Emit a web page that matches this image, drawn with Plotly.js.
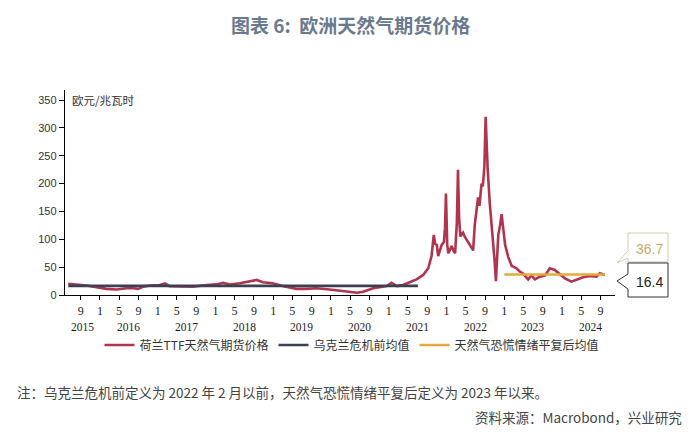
<!DOCTYPE html>
<html><head><meta charset="utf-8">
<script src="https://cdn.plot.ly/plotly-3.0.1.min.js"></script>
<style>body{margin:0;background:#fff}#c{width:700px;height:438px}</style>
</head><body><div id="c"></div>
<script>
// ---- data ----
const priceDates = ['2015-06-15','2015-07-25','2015-09-01','2015-10-08','2015-12-10','2016-01-05','2016-02-12','2016-04-15','2016-06-17','2016-08-01','2016-08-30','2016-10-01','2016-11-12','2017-01-14','2017-02-15','2017-03-16','2017-05-19','2017-08-12','2017-11-06','2018-01-08','2018-02-18','2018-04-01','2018-06-03','2018-08-05','2018-09-18','2018-10-27','2018-12-28','2019-03-01','2019-05-27','2019-07-28','2019-10-01','2019-12-24','2020-02-15','2020-04-15','2020-05-20','2020-06-15','2020-07-22','2020-09-24','2020-12-18','2021-01-18','2021-02-20','2021-04-01','2021-05-13','2021-06-25','2021-08-06','2021-09-07','2021-09-28','2021-10-06','2021-10-12','2021-10-20','2021-10-31','2021-11-09','2021-11-20','2021-12-01','2021-12-15','2021-12-22','2021-12-28','2022-01-05','2022-01-12','2022-01-24','2022-02-02','2022-02-12','2022-02-24','2022-03-07','2022-03-14','2022-03-21','2022-03-29','2022-04-08','2022-04-15','2022-04-25','2022-05-06','2022-05-16','2022-05-27','2022-06-10','2022-06-18','2022-06-28','2022-07-08','2022-07-19','2022-07-28','2022-08-10','2022-08-18','2022-08-28','2022-09-05','2022-09-12','2022-09-18','2022-10-01','2022-10-12','2022-10-22','2022-11-01','2022-11-09','2022-11-16','2022-11-24','2022-12-05','2022-12-15','2022-12-25','2023-01-06','2023-01-26','2023-02-17','2023-03-05','2023-03-19','2023-04-09','2023-05-01','2023-06-01','2023-06-22','2023-07-13','2023-08-13','2023-09-15','2023-10-16','2023-11-16','2023-12-18','2024-01-19','2024-03-01','2024-04-12','2024-05-13','2024-06-25','2024-08-06','2024-08-27','2024-09-27'];
const priceValues = [20,19,19,17,14,13,11,10,12,12,11,15,17,18,21,16,16,15,18,19,22,19,21,24,27,23,21,16,11,11,12,10,8,5,4.5,4,6,12,16,22,16,18,23,28,36,48,70,95,108,92,90,70,82,90,95,120,182,90,75,82,88,80,75,130,225,140,105,110,112,105,100,95,90,85,80,125,150,175,160,200,195,230,320,260,225,165,130,95,60,25,70,108,125,145,120,90,68,52,50,48,42,38,28,35,28,33,35,48,45,38,30,24,28,32,34,33,39,36];
const preMeanDates = ['2015-06-15','2021-07-04'];
const preMeanValues = [16.4,16.4];
const postMeanDates = ['2023-01-01','2024-09-27'];
const postMeanValues = [36.7,36.7];
const tickDates = ['2015-09-01','2016-01-01','2016-05-01','2016-09-01','2017-01-01','2017-05-01','2017-09-01','2018-01-01','2018-05-01','2018-09-01','2019-01-01','2019-05-01','2019-09-01','2020-01-01','2020-05-01','2020-09-01','2021-01-01','2021-05-01','2021-09-01','2022-01-01','2022-05-01','2022-09-01','2023-01-01','2023-05-01','2023-09-01','2024-01-01','2024-05-01','2024-09-01'];
const tickLabels = ['9','1','5','9','1','5','9','1','5','9','1','5','9','1','5','9','1','5','9','1','5','9','1','5','9','1','5','9'];
const yearLabels = ['2015','2016','2017','2018','2019','2020','2021','2022','2023','2024'];
const yearPos = ['2015-09-15','2016-07-01','2017-07-01','2018-07-01','2019-07-01','2020-07-01','2021-07-01','2022-07-01','2023-07-01','2024-07-01'];
const seriesNames = ['荷兰TTF天然气期货价格','乌克兰危机前均值','天然气恐慌情绪平复后均值'];
const calloutValues = ['36.7','16.4'];

// ---- layout helpers (pixel -> paper) ----
const L=65, R=615, T=90, B=295;
const px = x => (x-L)/(R-L);
const py = y => (B-y)/(B-T);
const path = pts => pts.map((p,i)=>(i?'L':'M')+px(p[0]).toFixed(4)+','+py(p[1]).toFixed(4)).join(' ')+' Z';

const cjk = '"Noto Sans CJK SC", sans-serif';
const traces = [
  {x:priceDates, y:priceValues, name:seriesNames[0], mode:'lines', line:{color:'#b0344e', width:2.6}},
  {x:preMeanDates, y:preMeanValues, name:seriesNames[1], mode:'lines', line:{color:'#3a4152', width:2.6}},
  {x:postMeanDates, y:postMeanValues, name:seriesNames[2], mode:'lines', line:{color:'#e8a93c', width:2.6}}
];

const ann = [
  {text:'<b>图表 6:  欧洲天然气期货价格</b>', xref:'paper', yref:'paper', x:px(350), y:py(25), xanchor:'center', yanchor:'middle', showarrow:false, font:{family:cjk, size:19, color:'#6a7a8e'}},
  {text:'欧元/兆瓦时', xref:'paper', yref:'paper', x:px(70), y:py(100), xanchor:'left', yanchor:'middle', showarrow:false, font:{family:cjk, size:11.5, color:'#333'}},
  {text:'注：乌克兰危机前定义为 2022 年 2 月以前，天然气恐慌情绪平复后定义为 2023 年以来。', xref:'paper', yref:'paper', x:px(15), y:py(392), xanchor:'left', yanchor:'middle', showarrow:false, font:{family:cjk, size:13.5, color:'#444'}},
  {text:'资料来源：Macrobond，兴业研究', xref:'paper', yref:'paper', x:px(684), y:py(417), xanchor:'right', yanchor:'middle', showarrow:false, font:{family:cjk, size:13.5, color:'#444'}},
  {text:calloutValues[0], xref:'paper', yref:'paper', x:px(649), y:py(249), xanchor:'center', yanchor:'middle', showarrow:false, font:{family:'Liberation Sans, sans-serif', size:14, color:'#c9a86c'}},
  {text:calloutValues[1], xref:'paper', yref:'paper', x:px(649), y:py(282), xanchor:'center', yanchor:'middle', showarrow:false, font:{family:'Liberation Sans, sans-serif', size:14, color:'#222'}}
];
yearLabels.forEach((t,i)=>ann.push({text:t, xref:'x', yref:'paper', x:yearPos[i], y:py(327), xanchor:'center', yanchor:'middle', showarrow:false, font:{family:'Liberation Serif, serif', size:11.5, color:'#222'}}));

const shapes = [
  {type:'path', xref:'paper', yref:'paper', path:path([[628,233],[668,233],[668,262],[628,262],[628,258],[617,263],[628,251]]), line:{color:'#d6cca8', width:1}, fillcolor:'#fff'},
  {type:'path', xref:'paper', yref:'paper', path:path([[628,263],[668,263],[668,297],[628,297],[628,289],[617,281],[628,274]]), line:{color:'#333', width:1}, fillcolor:'#fff'}
];

const layout = {
  width:700, height:438,
  margin:{l:L, r:700-R, t:T, b:438-B},
  paper_bgcolor:'#fff', plot_bgcolor:'#fff',
  showlegend:true,
  legend:{orientation:'h', x:px(352), xanchor:'center', y:py(345), yanchor:'middle', font:{family:cjk, size:12, color:'#333'}, itemwidth:30, tracegroupgap:0},
  xaxis:{type:'date', range:['2015-05-25','2024-12-01'], tickmode:'array', tickvals:tickDates, ticktext:tickLabels, ticks:'outside', ticklen:4, tickcolor:'#000', showline:true, linecolor:'#000', linewidth:1.2, showgrid:false, zeroline:false, tickfont:{family:'Liberation Serif, serif', size:12, color:'#222'}},
  yaxis:{range:[0,368], tickvals:[0,50,100,150,200,250,300,350], ticks:'outside', ticklen:5, tickcolor:'#000', showline:true, linecolor:'#000', linewidth:1.2, showgrid:false, zeroline:false, tickfont:{family:'Liberation Sans, sans-serif', size:11, color:'#333'}},
  annotations:ann, shapes:shapes
};
Plotly.newPlot('c', traces, layout, {staticPlot:true, displayModeBar:false});
</script></body></html>
